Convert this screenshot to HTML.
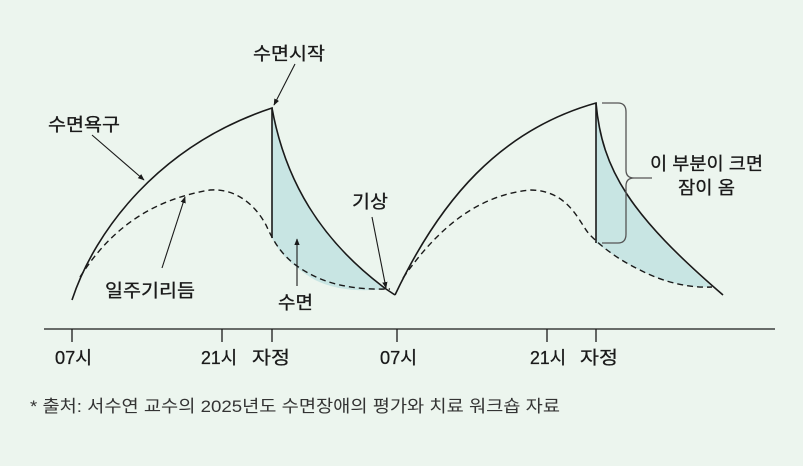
<!DOCTYPE html>
<html><head><meta charset="utf-8"><style>
html,body{margin:0;padding:0;background:#ecf5ee;}
svg{display:block;}
text{font-family:"Liberation Sans","Noto Sans CJK KR",sans-serif;fill:#1a1a1a;}
</style></head><body>
<svg width="803" height="466" viewBox="0 0 803 466" xmlns="http://www.w3.org/2000/svg">
<defs><marker id="a" viewBox="0 0 10 10" refX="9" refY="5" markerWidth="6" markerHeight="6" orient="auto"><path d="M0,1 L10,5 L0,9 z" fill="#1a1a1a"/></marker></defs>
<rect width="803" height="466" fill="#ecf5ee"/>
<path d="M272,108 C285,180 320,240 386,289 C360,292 335,290 315,280 C295,268 280,255 272,238 Z" fill="#c8e5e3"/>
<path d="M596,103 C602,170 630,215 712,287 C690,288 665,283 640,270 C615,258 600,245 596,243 Z" fill="#c8e5e3"/>
<g fill="none" stroke="#1a1a1a" stroke-width="1.6">
<path d="M72,300 C95,230 160,145 272,108 L272,238"/>
<path d="M272,108 C285,180 320,240 386,289 L395,295"/>
<path d="M395,295 C440,200 500,130 596,103 L596,243"/>
<path d="M596,103 C602,170 630,215 723,295"/>
</g>
<g fill="none" stroke="#1a1a1a" stroke-width="1.4" stroke-dasharray="6,4">
<path d="M80,277 C110,230 150,200 210,190 C240,188 258,210 266,225 C272,238 280,255 300,268 C325,285 355,290 390,289"/>
<path d="M403,278 C440,225 480,195 530,190 C570,190 580,225 590,235 C600,245 615,258 640,270 C665,283 690,288 712,287"/>
</g>
<path d="M602,103 H618 Q626,103 626,112 V170 Q626,178 634,178 H652 M634,178 Q626,178 626,186 V234 Q626,243 618,243 H602" fill="none" stroke="#555" stroke-width="1.3"/>
<g stroke="#1a1a1a" stroke-width="1.3">
<line x1="44" y1="329" x2="775" y2="329"/>
<line x1="72" y1="329" x2="72" y2="342"/>
<line x1="222" y1="329" x2="222" y2="342"/>
<line x1="272" y1="329" x2="272" y2="342"/>
<line x1="397" y1="329" x2="397" y2="342"/>
<line x1="547" y1="329" x2="547" y2="342"/>
<line x1="596" y1="329" x2="596" y2="342"/>
</g>
<g stroke="#1a1a1a" stroke-width="1.1" marker-end="url(#a)">
<line x1="92" y1="135" x2="144" y2="180"/>
<line x1="295" y1="64" x2="274" y2="105"/>
<line x1="162" y1="268" x2="185" y2="197"/>
<line x1="297" y1="286" x2="297" y2="239"/>
<line x1="372" y1="217" x2="386" y2="288"/>
</g>
<g font-size="18" style="stroke:#1a1a1a;stroke-width:0.3">
<text x="48" y="131" textLength="72" lengthAdjust="spacingAndGlyphs">수면욕구</text>
<text x="253" y="60" textLength="72" lengthAdjust="spacingAndGlyphs">수면시작</text>
<text x="352" y="208" textLength="36" lengthAdjust="spacingAndGlyphs">기상</text>
<text x="105" y="297" textLength="90" lengthAdjust="spacingAndGlyphs">일주기리듬</text>
<text x="278" y="309" textLength="35" lengthAdjust="spacingAndGlyphs">수면</text>
<text x="650" y="170" textLength="113" lengthAdjust="spacingAndGlyphs">이 부분이 크면</text>
<text x="678" y="194" textLength="57" lengthAdjust="spacingAndGlyphs">잠이 옴</text>
<text x="55" y="364" textLength="37" lengthAdjust="spacingAndGlyphs">07시</text>
<text x="201" y="364" textLength="36" lengthAdjust="spacingAndGlyphs">21시</text>
<text x="252" y="364" textLength="38" lengthAdjust="spacingAndGlyphs">자정</text>
<text x="380" y="364" textLength="37" lengthAdjust="spacingAndGlyphs">07시</text>
<text x="530" y="364" textLength="36" lengthAdjust="spacingAndGlyphs">21시</text>
<text x="580" y="364" textLength="38" lengthAdjust="spacingAndGlyphs">자정</text>
</g>
<text x="30" y="412" font-size="17" textLength="530" lengthAdjust="spacingAndGlyphs" style="fill:#333">* 출처: 서수연 교수의 2025년도 수면장애의 평가와 치료 워크숍 자료</text>
</svg>
</body></html>
